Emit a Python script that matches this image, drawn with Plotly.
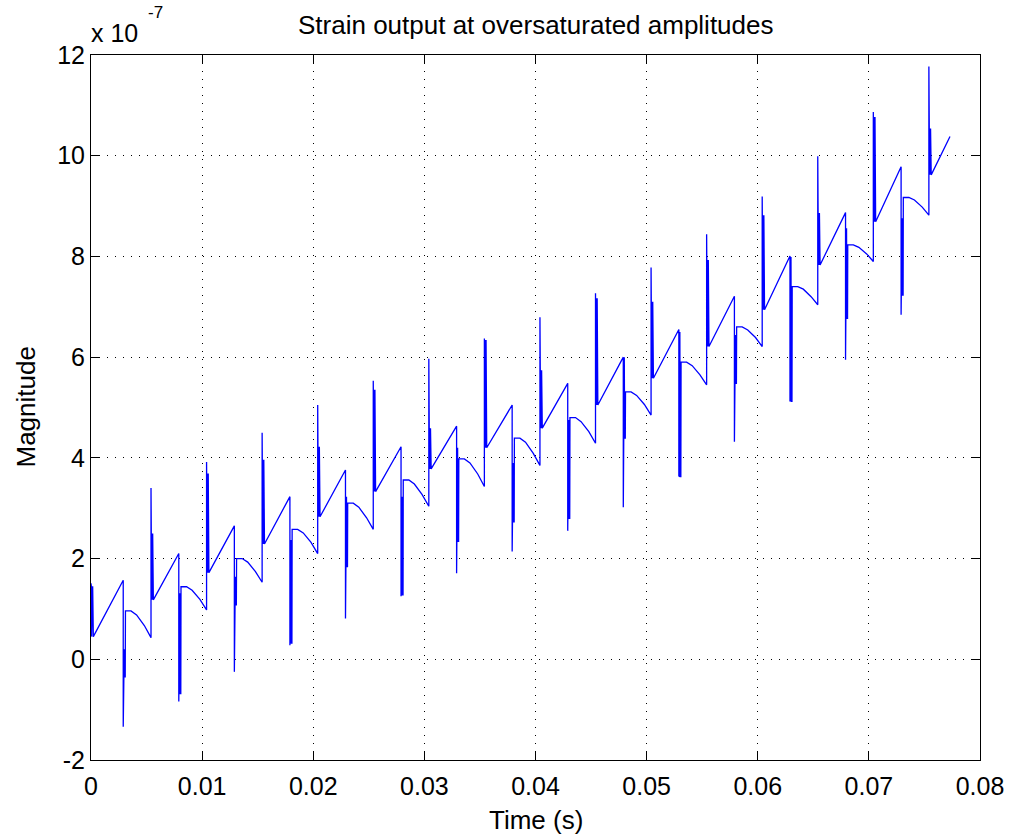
import plotly.graph_objects as go

# ---- values (magnitude in units of 1e-7) ----
up_t = [0.0, 0.0054, 0.0104, 0.0154, 0.0204, 0.0254, 0.0304, 0.0354,
        0.0404, 0.0454, 0.0504, 0.0554, 0.0604, 0.0654, 0.0704, 0.0754]
up_peak = [1.51, 3.40, 3.92, 4.50, 5.05, 5.53, 5.97, 6.37,
           6.79, 7.27, 7.78, 8.44, 9.19, 9.99, 10.87, 11.77]
up_band = [1.45, 2.50, 3.69, 3.96, 4.22, 5.35, 4.59, 6.34,
           5.74, 7.17, 7.10, 7.93, 8.82, 8.86, 10.77, 10.54]
ramp_start = [0.45, 1.18, 1.72, 2.29, 2.83, 3.33, 3.78, 4.20,
              4.59, 5.05, 5.58, 6.21, 6.94, 7.83, 8.69, 9.62]

dn_t = [0.0029, 0.0079, 0.0129, 0.0179, 0.0229, 0.0279, 0.0329, 0.0379,
        0.0429, 0.0479, 0.0529, 0.0579, 0.0629, 0.0679, 0.0729]
ramp_end = [1.57, 2.10, 2.65, 3.23, 3.76, 4.22, 4.63, 5.05,
            5.48, 6.00, 6.55, 7.21, 8.01, 8.87, 9.78]
dn_min = [-1.34, -0.84, -0.25, 0.28, 0.81, 1.25, 1.71, 2.14,
          2.55, 3.02, 3.64, 4.32, 5.12, 5.95, 6.84]
dn_band_hi = [0.20, 1.31, 1.64, 2.37, 3.23, 3.23, 4.20, 3.90,
              4.75, 6.00, 6.50, 6.44, 7.99, 8.56, 8.76]
dn_band_lo = [-0.35, -0.68, 1.08, 0.32, 1.84, 1.28, 2.34, 2.73,
              2.80, 4.39, 3.63, 5.48, 5.12, 6.77, 7.23]
hump_start = [0.96, 1.44, 2.00, 2.58, 3.10, 3.56, 3.98, 4.39,
              4.80, 5.31, 5.90, 6.60, 7.40, 8.23, 9.17]
hump_q = [0.88, 1.37, 1.93, 2.51, 3.02, 3.48, 3.90, 4.31,
          4.72, 5.24, 5.83, 6.54, 7.35, 8.18, 9.12]
hump_mid = [0.67, 1.19, 1.74, 2.32, 2.81, 3.27, 3.68, 4.09,
            4.52, 5.06, 5.65, 6.39, 7.20, 8.05, 8.98]
hump_end = [0.43, 0.98, 1.53, 2.10, 2.58, 3.04, 3.43, 3.85,
            4.29, 4.85, 5.45, 6.21, 7.04, 7.90, 8.82]
end_t = 0.0773
end_val = 10.38

x_ticks = [0, 0.01, 0.02, 0.03, 0.04, 0.05, 0.06, 0.07, 0.08]
x_ticktext = ["0", "0.01", "0.02", "0.03", "0.04", "0.05", "0.06", "0.07", "0.08"]
y_ticks = [-2, 0, 2, 4, 6, 8, 10, 12]
y_ticktext = ["-2", "0", "2", "4", "6", "8", "10", "12"]

# ---- assemble polyline vertices from the read values ----
E = 0.00003
ts, ys = [], []
n_up = len(up_t)
for k in range(n_up):
    t0 = up_t[k]
    if k > 0:
        ts.append(t0); ys.append(hump_end[k - 1])
    ts += [t0, t0 + E, t0 + 2 * E, t0 + 3 * E, t0 + 4 * E, t0 + 5 * E, t0 + 7 * E]
    ys += [up_peak[k], up_band[k], ramp_start[k], up_band[k], ramp_start[k],
           up_band[k], ramp_start[k]]
    if k < len(dn_t):
        d = dn_t[k]
        ts += [d, d, d + E, d + 2 * E, d + 3 * E, d + 4 * E, d + 6 * E,
               d + 0.0002, d + 0.0007, d + 0.0012, d + 0.0019]
        ys += [ramp_end[k], dn_min[k], dn_band_hi[k], dn_band_lo[k],
               dn_band_hi[k], dn_band_lo[k], dn_band_lo[k],
               hump_start[k], hump_start[k], hump_q[k], hump_mid[k]]
ts.append(end_t); ys.append(end_val)

FONT = "Liberation Sans, Arial, Helvetica, sans-serif"

fig = go.Figure()
fig.add_trace(go.Scatter(x=ts, y=ys, mode="lines",
                         line=dict(color="#0000FF", width=1.3),
                         hoverinfo="skip", showlegend=False))

axis_common = dict(
    showline=True, linecolor="black", linewidth=1, mirror="ticks",
    ticks="inside", ticklen=8, tickcolor="black", tickwidth=1,
    showgrid=True, gridcolor="black", gridwidth=1, griddash="1px,7px",
    zeroline=False, tickfont=dict(family=FONT, size=25, color="black"),
)

fig.update_layout(
    width=1016, height=839,
    margin=dict(l=91, r=30, t=55, b=79),
    paper_bgcolor="white", plot_bgcolor="white",
    xaxis=dict(range=[0, 0.08], tickvals=x_ticks, ticktext=x_ticktext,
               ticklabelstandoff=4, **axis_common),
    yaxis=dict(range=[-2, 12], tickvals=y_ticks, ticktext=y_ticktext, **axis_common),
    font=dict(family=FONT, size=25, color="black"),
    annotations=[
        dict(text="Strain output at oversaturated amplitudes", xref="paper", yref="paper",
             x=0.5, y=1, yshift=30, xanchor="center", yanchor="middle",
             showarrow=False, font=dict(family=FONT, size=26)),
        dict(text="Time (s)", xref="paper", yref="paper", x=0.5, y=0, yshift=-60,
             xanchor="center", yanchor="middle", showarrow=False,
             font=dict(family=FONT, size=26)),
        dict(text="Magnitude", xref="paper", yref="paper", x=0, y=0.5, xshift=-66,
             xanchor="center", yanchor="middle", textangle=-90, showarrow=False,
             font=dict(family=FONT, size=26)),
        dict(text="x 10", xref="paper", yref="paper", x=0, y=1,
             xshift=-2, yshift=22, xanchor="left", yanchor="middle",
             showarrow=False, font=dict(family=FONT, size=25)),
        dict(text="-7", xref="paper", yref="paper", x=0, y=1,
             xshift=55, yshift=43, xanchor="left", yanchor="middle",
             showarrow=False, font=dict(family=FONT, size=17)),
    ],
)

fig.write_html("out.html")
